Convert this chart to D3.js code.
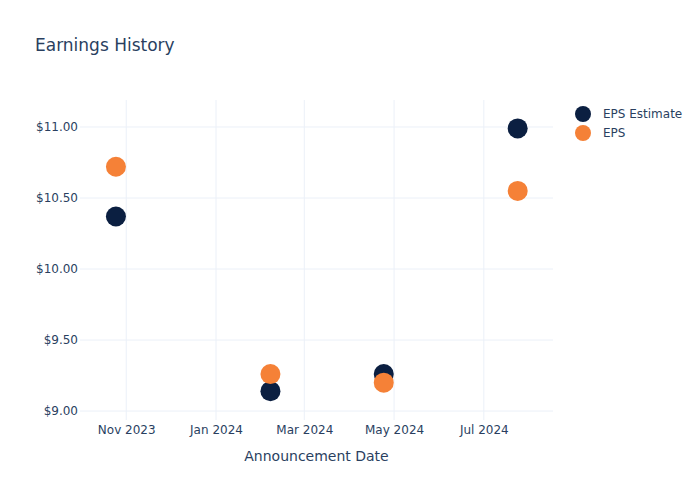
<!DOCTYPE html>
<html>
<head>
<meta charset="utf-8">
<script src="https://cdn.jsdelivr.net/npm/d3@7"></script>
<style>
  body { margin: 0; background: #fff; }
  svg text { font-family: "DejaVu Sans", Verdana, sans-serif; fill: #2a3f5f; }
</style>
</head>
<body>
<svg id="canvas" width="700" height="500"></svg>
<script>
// Announcement dates
var DATES = ['2023-10-25', '2024-02-07', '2024-04-24', '2024-07-24'];
// EPS values per quarter
var EPS_ESTIMATE = [10.37, 9.14, 9.26, 10.99];
var EPS_ACTUAL = [10.72, 9.26, 9.20, 10.55];
var Y_TICKS = [9, 9.5, 10, 10.5, 11];
var SERIES_NAMES = ['EPS Estimate', 'EPS'];
var SERIES_COLORS = ['#0b1f41', '#f58137'];

var margin = { top: 100, right: 147, bottom: 80, left: 80 };
var width = 700, height = 500;
var parse = d3.timeParse('%Y-%m-%d');

var svg = d3.select('#canvas');

var x = d3.scaleTime()
  .domain([new Date(2023, 8, 30, 14), new Date(2024, 7, 17)])
  .range([margin.left, width - margin.right]);

var y = d3.scaleLinear()
  .domain([8.937, 11.19])
  .range([height - margin.bottom, margin.top]);

// Grid lines
var xTicks = x.ticks(d3.timeMonth.every(2));
svg.append('g')
  .selectAll('line')
  .data(xTicks)
  .enter()
  .append('line')
  .attr('x1', function (d) { return x(d); })
  .attr('x2', function (d) { return x(d); })
  .attr('y1', margin.top)
  .attr('y2', height - margin.bottom)
  .attr('stroke', '#ebf0f8')
  .attr('stroke-width', 1);

svg.append('g')
  .selectAll('line')
  .data(Y_TICKS)
  .enter()
  .append('line')
  .attr('x1', margin.left)
  .attr('x2', width - margin.right)
  .attr('y1', function (d) { return y(d); })
  .attr('y2', function (d) { return y(d); })
  .attr('stroke', '#ebf0f8')
  .attr('stroke-width', 1);

// Axes
var xAxis = d3.axisBottom(x)
  .tickValues(xTicks)
  .tickFormat(d3.timeFormat('%b %Y'))
  .tickSize(0)
  .tickPadding(5);
var gx = svg.append('g')
  .attr('transform', 'translate(0,' + (height - margin.bottom) + ')')
  .call(xAxis);

var yAxis = d3.axisLeft(y)
  .tickValues(Y_TICKS)
  .tickFormat(function (d) { return '$' + d.toFixed(2); })
  .tickSize(0)
  .tickPadding(2);
var gy = svg.append('g')
  .attr('transform', 'translate(' + margin.left + ',0)')
  .call(yAxis);

[gx, gy].forEach(function (g) {
  g.select('.domain').remove();
  g.selectAll('text')
    .style('font-size', '12px')
    .attr('fill', '#2a3f5f');
});

// Points
var series = [EPS_ESTIMATE, EPS_ACTUAL];
series.forEach(function (values, si) {
  svg.append('g')
    .selectAll('circle')
    .data(values)
    .enter()
    .append('circle')
    .attr('cx', function (d, i) { return x(parse(DATES[i])); })
    .attr('cy', function (d) { return y(d); })
    .attr('r', 10)
    .attr('fill', SERIES_COLORS[si]);
});

// Title
svg.append('text')
  .attr('x', 35)
  .attr('y', 51)
  .style('font-size', '17px')
  .text('Earnings History');

// X axis title
svg.append('text')
  .attr('x', (margin.left + width - margin.right) / 2)
  .attr('y', 461)
  .attr('text-anchor', 'middle')
  .style('font-size', '14px')
  .text('Announcement Date');

// Legend
var legend = svg.append('g')
  .attr('transform', 'translate(583,114)');
SERIES_NAMES.forEach(function (name, i) {
  var row = legend.append('g')
    .attr('transform', 'translate(0,' + (i * 19) + ')');
  row.append('circle')
    .attr('r', 8)
    .attr('fill', SERIES_COLORS[i]);
  row.append('text')
    .attr('x', 20)
    .attr('dy', '0.35em')
    .style('font-size', '12px')
    .text(name);
});
</script>
</body>
</html>
